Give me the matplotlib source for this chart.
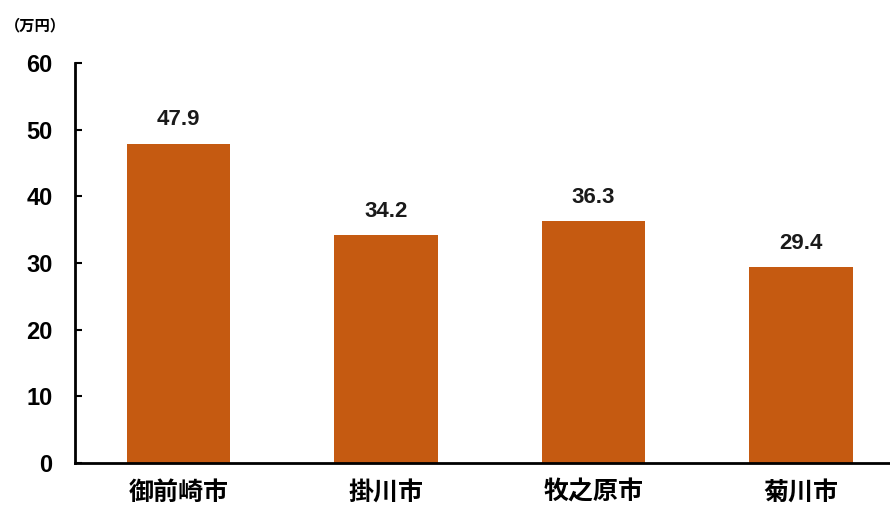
import matplotlib
matplotlib.use("Agg")
import matplotlib.pyplot as plt

plt.rcParams["font.family"] = ["Liberation Sans", "Noto Sans CJK JP", "DejaVu Sans"]

cities = ["御前崎市", "掛川市", "牧之原市", "菊川市"]
values = [47.9, 34.2, 36.3, 29.4]
yticks = [0, 10, 20, 30, 40, 50, 60]

fig = plt.figure(figsize=(8.9, 5.11), dpi=100)
ax = fig.add_axes([0.084, 0.094, 0.916, 0.783])

x = range(len(cities))
ax.bar(x, values, width=0.5, color="#C55A11")
for xi, v in zip(x, values):
    ax.text(xi, v + 2.0, f"{v:.1f}", ha="center", va="bottom", fontsize=16,
            fontweight="bold", color="#1a1a1a")

ax.set_xlim(-0.5, 3.43)
ax.set_ylim(0, 60)
ax.set_yticks(yticks)
ax.set_xticks(list(x))
ax.set_xticklabels(cities, family=["Noto Sans CJK JP"], fontsize=18, fontweight="bold")
ax.tick_params(axis="y", direction="in", length=5, width=1.5, labelsize=17, pad=16)
ax.tick_params(axis="x", length=0, pad=13)
for lbl in ax.get_yticklabels():
    lbl.set_fontweight("bold")

ax.spines["top"].set_visible(False)
ax.spines["right"].set_visible(False)
ax.spines["left"].set_linewidth(2)
ax.spines["bottom"].set_linewidth(2)

fig.text(0.005, 0.95, "（万円）", family=["Noto Sans CJK JP"], fontsize=11,
         fontweight="bold", ha="left", va="center")

fig.savefig("out.png", dpi=100)
